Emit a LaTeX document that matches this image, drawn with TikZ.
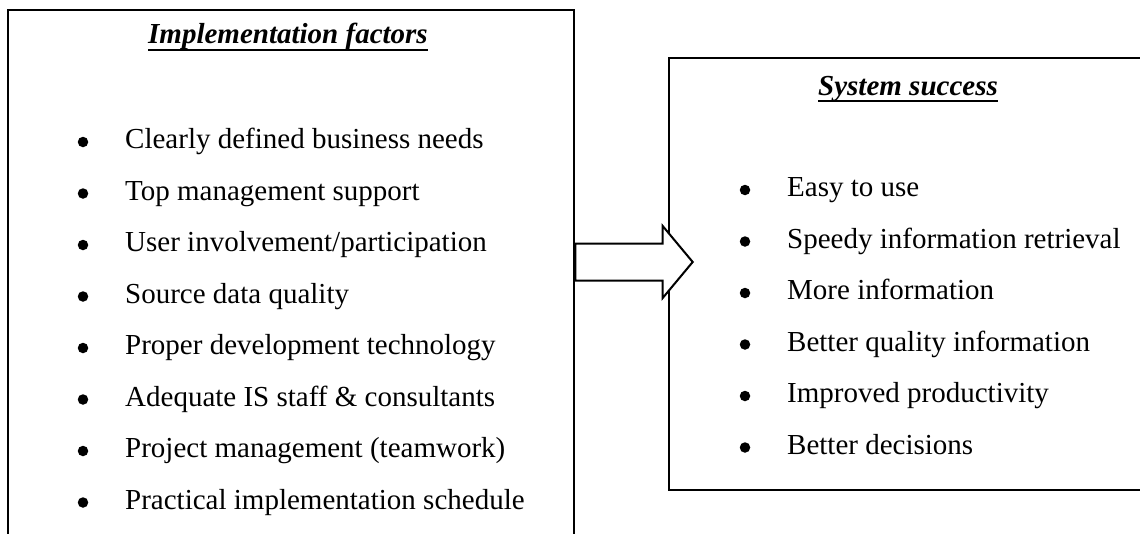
\documentclass[tikz,border=0pt]{standalone}
\usepackage{fontspec}
\setmainfont{Liberation Serif}
\usetikzlibrary{calc}
\begin{document}
\begin{tikzpicture}[x=1pt,y=-1pt,
  frame/.style={draw=black,line width=2.6pt,rectangle,inner sep=0pt},
  item/.style={anchor=base west,inner sep=0pt,font=\fontsize{29}{34}\selectfont},
  ttl/.style={anchor=base west,inner sep=0pt,font=\fontsize{29}{34}\selectfont\bfseries\itshape},
  bul/.style={circle,fill=black,inner sep=0pt,minimum size=10.5pt},
  uline/.style={line width=2.2pt},
  blockarrow/.style={draw=black,fill=white,line width=2pt,line join=miter}]
\useasboundingbox (0,0) rectangle (1140,533);
\clip (0,0) rectangle (1140,533);
\fill[white] (0,0) rectangle (1140,533);
% boxes
\node[frame,minimum width=566pt,minimum height=560pt] (left) at (291,290) {};
\node[frame,minimum width=500pt,minimum height=432pt] (right) at (919,274) {};
% titles
\node[ttl] (t1) at (148,43) {Implementation factors};
\draw[uline] ([yshift=-7pt]t1.base west) -- ([yshift=-7pt]t1.base east);
\node[ttl] (t2) at (818,95) {System success};
\draw[uline] ([yshift=-6pt]t2.base west) -- ([yshift=-6pt]t2.base east);
% left items
\foreach \i/\t in {0/{Clearly defined business needs},1/{Top management support},2/{User involvement/participation},3/{Source data quality},4/{Proper development technology},5/{Adequate IS staff \& consultants},6/{Project management (teamwork)},7/{Practical implementation schedule}}{
  \node[bul] (lb\i) at (83,{142+51.5*\i}) {};
  \node[item] (lt\i) at (125,{148.5+51.5*\i}) {\t};
}
% right items
\foreach \i/\t in {0/{Easy to use},1/{Speedy information retrieval},2/{More information},3/{Better quality information},4/{Improved productivity},5/{Better decisions}}{
  \node[bul] (rb\i) at (745,{190+51.5*\i}) {};
  \node[item] (rt\i) at (787,{196.5+51.5*\i}) {\t};
}
% arrow
\coordinate (mid) at (0,262);
\coordinate (tip) at ($(right.west |- mid)+(25,0)$);
\draw[blockarrow] ($(left.east |- mid)+(0,-18.5)$) -- ($(tip)+(-30,-18.5)$) -- ($(tip)+(-30,-36)$) -- (tip)
  -- ($(tip)+(-30,36)$) -- ($(tip)+(-30,18.5)$) -- ($(left.east |- mid)+(0,18.5)$) -- cycle;
\end{tikzpicture}
\end{document}
